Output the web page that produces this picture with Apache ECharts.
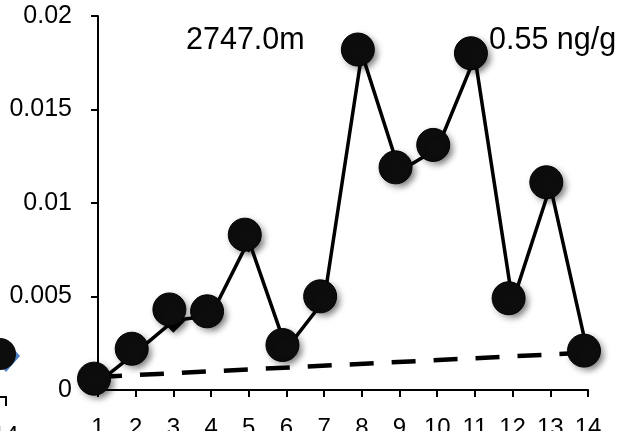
<!DOCTYPE html>
<html>
<head>
<meta charset="utf-8">
<script src="https://cdn.jsdelivr.net/npm/echarts@6/dist/echarts.min.js"></script>
<style>
  html, body { margin: 0; padding: 0; background: #fff; }
  #chart { width: 628px; height: 431px; }
</style>
</head>
<body>
<div id="chart"></div>
<script>
// sample numbers on the x axis
var samples = ['1','2','3','4','5','6','7','8','9','10','11','12','13','14'];
// round markers (front series)
var circleVals = [0.0005, 0.0021, 0.0042, 0.0041, 0.0082, 0.0023, 0.0049, 0.0181, 0.0118, 0.0130, 0.0179, 0.0048, 0.0110, 0.0020];
// diamond markers with the connecting line (behind the circles)
var diamondVals = [0.0004, 0.0020, 0.0037, 0.0040, 0.0080, 0.0022, 0.0048, 0.0180, 0.0117, 0.0129, 0.0178, 0.0047, 0.0109, 0.0019];
// dashed reference line, end points only
var refVals = [0.0007, '-', '-', '-', '-', '-', '-', '-', '-', '-', '-', '-', '-', 0.0020];
var yTicks = [0, 0.005, 0.01, 0.015, 0.02];

var font = "'Liberation Sans', Arial, sans-serif";

var chart = echarts.init(document.getElementById('chart'));
var option = {
    animation: false,
    backgroundColor: '#fff',
    grid: { left: 98, right: 40, top: 16, bottom: 41, containLabel: false, outerBoundsMode: 'none' },
    xAxis: {
        type: 'category',
        boundaryGap: false,
        data: samples,
        axisLine: { lineStyle: { color: '#000', width: 2 } },
        axisTick: { show: true, length: 7, lineStyle: { color: '#000', width: 2 } },
        axisLabel: { color: '#000', fontSize: 24, fontFamily: font, margin: 26 },
        splitLine: { show: false }
    },
    yAxis: {
        type: 'value',
        min: yTicks[0],
        max: yTicks[yTicks.length - 1],
        interval: yTicks[1] - yTicks[0],
        axisLine: { show: true, lineStyle: { color: '#000', width: 2 } },
        axisTick: { show: true, length: 7, lineStyle: { color: '#000', width: 2 } },
        axisLabel: {
            color: '#000', fontSize: 25, fontFamily: font, margin: 26,
            formatter: function (v) { return String(+v.toFixed(3)); }
        },
        splitLine: { show: false }
    },
    series: [
        {
            name: 'ref',
            type: 'line',
            data: refVals,
            connectNulls: true,
            symbol: 'none',
            lineStyle: { color: '#000', width: 4.5, type: [24, 18] },
            z: 1
        },
        {
            name: 'diamond',
            type: 'line',
            data: diamondVals,
            symbol: 'diamond',
            symbolSize: 24,
            lineStyle: { color: '#000', width: 3.5 },
            itemStyle: {
                color: '#000',
                shadowBlur: 6, shadowOffsetX: 3, shadowOffsetY: 3,
                shadowColor: 'rgba(0,0,0,0.3)'
            },
            z: 2
        },
        {
            name: 'circle',
            type: 'line',
            data: circleVals,
            symbol: 'circle',
            symbolSize: 33,
            symbolOffset: [-4, -2],
            lineStyle: { width: 0, opacity: 0 },
            itemStyle: {
                color: '#0d0d0d',
                borderColor: '#000',
                borderWidth: 1,
                shadowBlur: 6, shadowOffsetX: 3, shadowOffsetY: 3,
                shadowColor: 'rgba(0,0,0,0.35)'
            },
            z: 3
        }
    ],
    graphic: [
        // annotations
        { type: 'text', left: 186, top: 25, z: 10,
          style: { text: '2747.0m', fill: '#000', fontSize: 30.5, fontFamily: font } },
        { type: 'text', left: 489, top: 25, z: 10,
          style: { text: '0.55 ng/g', fill: '#000', fontSize: 30.5, fontFamily: font } },
        // edge of the neighbouring panel on the left
        { type: 'polygon', z: 1,
          shape: { points: [[6, 340], [20, 356], [6, 372], [-8, 356]] },
          style: { fill: '#4a7fc1' } },
        { type: 'circle', z: 2,
          shape: { cx: 0, cy: 354, r: 16 },
          style: { fill: '#0d0d0d' } },
        { type: 'polyline', z: 1,
          shape: { points: [[-5, 397], [6, 397], [6, 406]] },
          style: { stroke: '#000', lineWidth: 2, fill: null } },
        { type: 'text', left: -8, top: 424, z: 1,
          style: { text: '14', fill: '#000', fontSize: 24, fontFamily: font } }
    ]
};
chart.setOption(option);
</script>
</body>
</html>
